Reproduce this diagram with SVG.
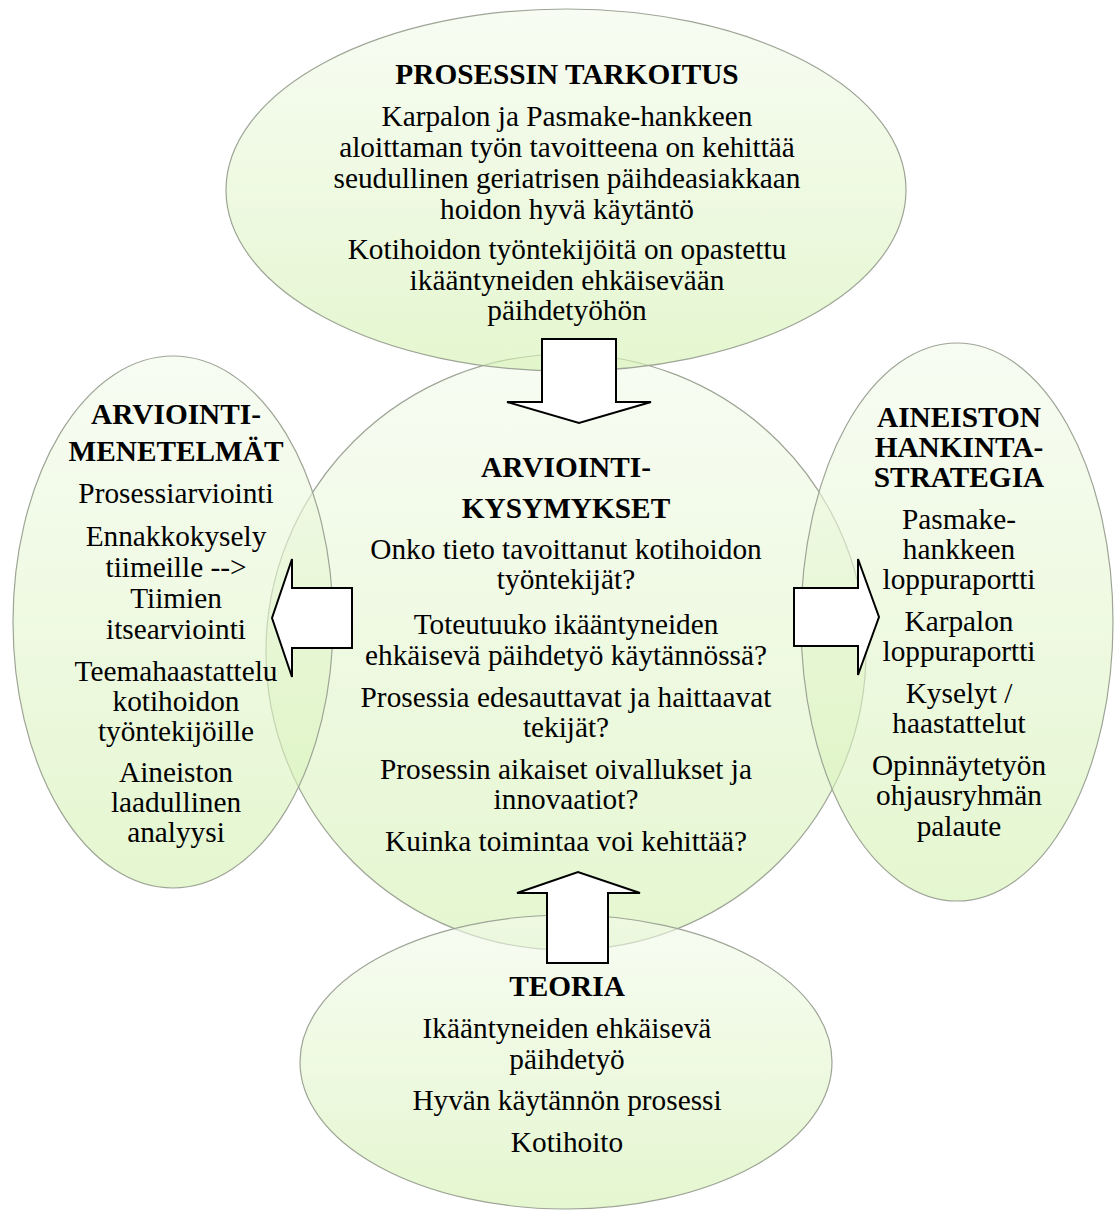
<svg xmlns="http://www.w3.org/2000/svg" width="1115" height="1210" viewBox="0 0 1115 1210">
  <defs>
    <linearGradient id="g" x1="0" y1="0" x2="0" y2="1">
      <stop offset="0" stop-color="#f3faeb"/>
      <stop offset="1" stop-color="#d3f1b0"/>
    </linearGradient>
    <style>
      .ell { fill: url(#g); fill-opacity: 0.6; stroke: #9ea596; stroke-width: 1.2; }
      .arr { fill: #ffffff; stroke: #000000; stroke-width: 2; stroke-linejoin: miter; }
      text { font-family: 'Liberation Serif', Tinos, 'Times New Roman', serif; font-size: 29.3px; fill: #000; text-anchor: middle; }
      .h { font-weight: bold; }
    </style>
  </defs>
  <rect width="1115" height="1210" fill="#ffffff"/>

  <g id="node-center">
    <ellipse class="ell" cx="566" cy="652" rx="300" ry="298"/>
    <text class="h" x="566" y="477">ARVIOINTI-</text>
    <text class="h" x="566" y="518">KYSYMYKSET</text>
    <text x="566" y="559">Onko tieto tavoittanut kotihoidon</text>
    <text x="566" y="589">työntekijät?</text>
    <text x="566" y="634">Toteutuuko ikääntyneiden</text>
    <text x="566" y="665">ehkäisevä päihdetyö käytännössä?</text>
    <text x="566" y="707">Prosessia edesauttavat ja haittaavat</text>
    <text x="566" y="737">tekijät?</text>
    <text x="566" y="779">Prosessin aikaiset oivallukset ja</text>
    <text x="566" y="809">innovaatiot?</text>
    <text x="566" y="851">Kuinka toimintaa voi kehittää?</text>
  </g>

  <g id="node-left">
    <ellipse class="ell" cx="173" cy="622" rx="160" ry="266"/>
    <text class="h" x="176" y="424">ARVIOINTI-</text>
    <text class="h" x="176" y="461">MENETELMÄT</text>
    <text x="176" y="503">Prosessiarviointi</text>
    <text x="176" y="546">Ennakkokysely</text>
    <text x="176" y="577">tiimeille --&gt;</text>
    <text x="176" y="608">Tiimien</text>
    <text x="176" y="639">itsearviointi</text>
    <text x="176" y="681">Teemahaastattelu</text>
    <text x="176" y="711">kotihoidon</text>
    <text x="176" y="741">työntekijöille</text>
    <text x="176" y="782">Aineiston</text>
    <text x="176" y="812">laadullinen</text>
    <text x="176" y="842">analyysi</text>
  </g>

  <g id="node-right">
    <ellipse class="ell" cx="957" cy="622" rx="156" ry="279"/>
    <text class="h" x="959" y="427">AINEISTON</text>
    <text class="h" x="959" y="457">HANKINTA-</text>
    <text class="h" x="959" y="487">STRATEGIA</text>
    <text x="959" y="529">Pasmake-</text>
    <text x="959" y="559">hankkeen</text>
    <text x="959" y="589">loppuraportti</text>
    <text x="959" y="631">Karpalon</text>
    <text x="959" y="661">loppuraportti</text>
    <text x="959" y="703">Kyselyt /</text>
    <text x="959" y="733">haastattelut</text>
    <text x="959" y="775">Opinnäytetyön</text>
    <text x="959" y="805">ohjausryhmän</text>
    <text x="959" y="836">palaute</text>
  </g>

  <g id="node-top">
    <ellipse class="ell" cx="566" cy="190" rx="340" ry="181"/>
    <text class="h" x="567" y="84">PROSESSIN TARKOITUS</text>
    <text x="567" y="126">Karpalon ja Pasmake-hankkeen</text>
    <text x="567" y="157">aloittaman työn tavoitteena on kehittää</text>
    <text x="567" y="188">seudullinen geriatrisen päihdeasiakkaan</text>
    <text x="567" y="219">hoidon hyvä käytäntö</text>
    <text x="567" y="259">Kotihoidon työntekijöitä on opastettu</text>
    <text x="567" y="290">ikääntyneiden ehkäisevään</text>
    <text x="567" y="320">päihdetyöhön</text>
  </g>

  <g id="node-bottom">
    <ellipse class="ell" cx="566" cy="1062" rx="266" ry="147"/>
    <text class="h" x="567" y="996">TEORIA</text>
    <text x="567" y="1038">Ikääntyneiden ehkäisevä</text>
    <text x="567" y="1069">päihdetyö</text>
    <text x="567" y="1110">Hyvän käytännön prosessi</text>
    <text x="567" y="1152">Kotihoito</text>
  </g>

  <g id="connectors">
    <path class="arr" d="M542,339 L616,339 L616,402 L651,402 L579,423 L507,402 L542,402 Z"/>
    <path class="arr" d="M547,963 L608,963 L608,893 L640,893 L578,872 L517,893 L547,893 Z"/>
    <path class="arr" d="M352,588 L352,648 L292,648 L292,677 L272,618 L292,559 L292,588 Z"/>
    <path class="arr" d="M794,588 L858,588 L858,559 L879,617 L858,675 L858,646 L794,646 Z"/>
  </g>
</svg>
